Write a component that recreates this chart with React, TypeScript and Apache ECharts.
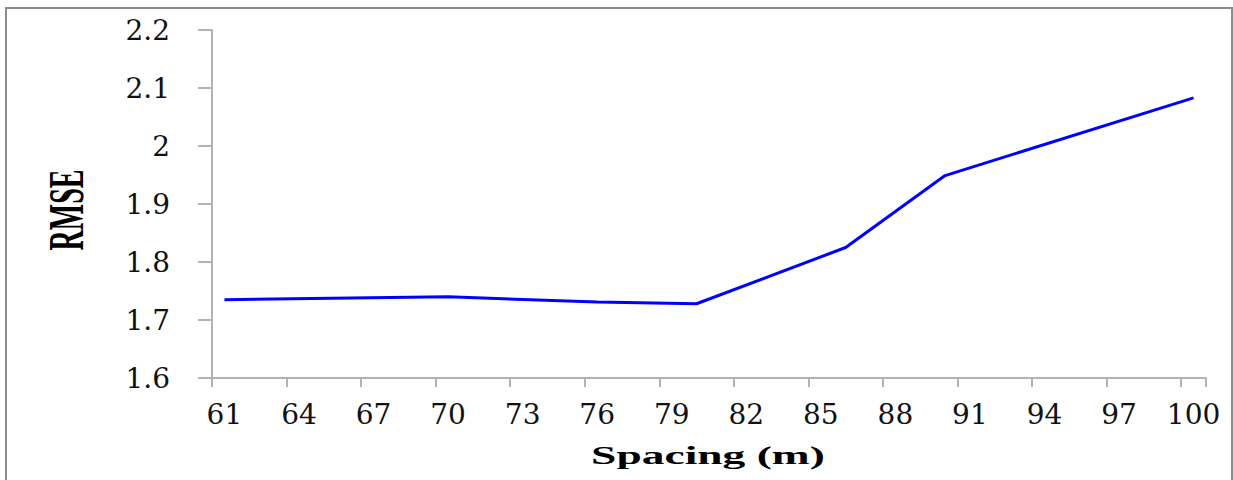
import React, { useEffect, useRef } from "react";
import * as echarts from "echarts";

// Spacing categories 61..100 (one per metre); labels and ticks every 3 m
const spacings: string[] = [];
for (let s = 61; s <= 100; s++) spacings.push(String(s));

// Measured RMSE at the sampled spacings
const sampleSpacing = ["61", "70", "76", "80", "86", "90", "100"];
const sampleRmse = [1.735, 1.74, 1.731, 1.728, 1.825, 1.949, 2.083];

const yTicks = { min: 1.6, max: 2.2, interval: 0.1 };

export default function App() {
  const ref = useRef<HTMLDivElement>(null);

  useEffect(() => {
    if (!ref.current) return;
    const chart = echarts.init(ref.current, null, { renderer: "svg" });
    const axisGray = "#b3b3b3";
    chart.setOption({
      animation: false,
      backgroundColor: "#ffffff",
      grid: { left: 212, right: 27, top: 30, bottom: 102, containLabel: false },
      xAxis: {
        type: "category",
        data: spacings,
        boundaryGap: true,
        axisLine: { lineStyle: { color: axisGray, width: 2 } },
        axisTick: {
          show: true,
          interval: 2,
          length: 9,
          lineStyle: { color: axisGray, width: 2 },
        },
        axisLabel: {
          interval: 2,
          margin: 22,
          color: "#111",
          fontFamily: "DejaVu Serif",
          fontSize: 28,
        },
        splitLine: { show: false },
      },
      yAxis: {
        type: "value",
        min: yTicks.min,
        max: yTicks.max,
        interval: yTicks.interval,
        axisLine: { show: true, lineStyle: { color: axisGray, width: 2 } },
        axisTick: { show: true, length: 14, lineStyle: { color: axisGray, width: 2 } },
        axisLabel: {
          margin: 42,
          color: "#111",
          fontFamily: "DejaVu Serif",
          fontSize: 28,
          formatter: (v: number) => String(Math.round(v * 10) / 10),
        },
        splitLine: { show: false },
      },
      series: [
        {
          type: "line",
          data: sampleSpacing.map((s, i) => [s, sampleRmse[i]]),
          showSymbol: false,
          symbol: "none",
          lineStyle: { color: "#0000ff", width: 3 },
          connectNulls: true,
        },
      ],
      graphic: [
        {
          type: "rect",
          shape: { x: 6, y: 8, width: 1226, height: 490 },
          style: { fill: "none", stroke: "#8c8c8c", lineWidth: 2 },
          silent: true,
        },
        {
          type: "text",
          x: 66,
          y: 210,
          rotation: Math.PI / 2,
          scaleY: 1.8,
          style: {
            text: "RMSE",
            fontFamily: "Liberation Serif",
            fontWeight: "bold",
            fontSize: 28,
            fill: "#000",
            align: "center",
            verticalAlign: "middle",
          },
        },
        {
          type: "text",
          x: 708,
          y: 455,
          scaleX: 1.75,
          style: {
            text: "Spacing (m)",
            fontFamily: "Liberation Serif",
            fontWeight: "bold",
            fontSize: 26,
            fill: "#000",
            align: "center",
            verticalAlign: "middle",
          },
        },
      ],
    });
    return () => chart.dispose();
  }, []);

  return (
    <div
      ref={ref}
      style={{ position: "fixed", left: 0, top: 0, width: 1233, height: 480 }}
    />
  );
}
